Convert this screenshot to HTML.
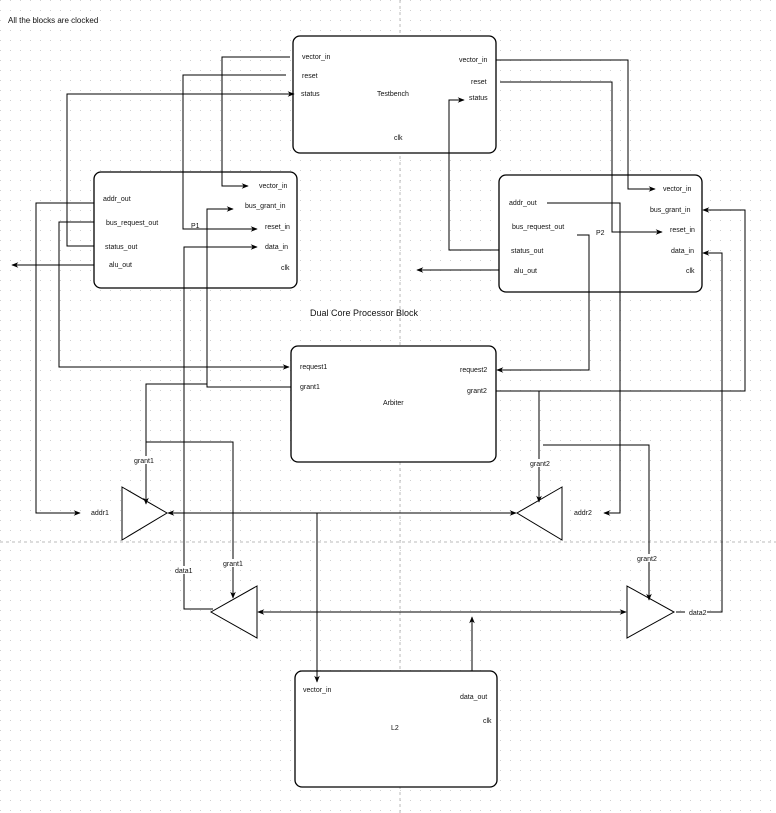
<!DOCTYPE html>
<html><head><meta charset="utf-8"><style>
html,body{margin:0;padding:0;background:#fff}
svg{display:block}
text{font-family:"Liberation Sans",sans-serif;font-size:7px;fill:#111}
</style></head><body>
<svg width="776" height="813" viewBox="0 0 776 813" xmlns="http://www.w3.org/2000/svg">
<defs>
<pattern id="dots" width="10" height="10" patternUnits="userSpaceOnUse"><rect x="0" y="0" width="1" height="1" fill="#d0d0d0"/></pattern>
<marker id="a" viewBox="0 0 10 10" refX="9" refY="5" markerWidth="7" markerHeight="7" orient="auto-start-reverse" markerUnits="userSpaceOnUse"><path d="M0,1 L10,5 L0,9 L3,5 z" fill="#000"/></marker>
</defs>
<rect width="776" height="813" fill="url(#dots)"/>
<line x1="400" y1="0" x2="400" y2="813" stroke="#bbb" stroke-dasharray="3,3" stroke-width="1"/>
<line x1="0" y1="542" x2="776" y2="542" stroke="#bbb" stroke-dasharray="3,3" stroke-width="1"/>

<text x="8" y="23" style="font-size:8px">All the blocks are clocked</text>
<text x="310" y="316" style="font-size:9px">Dual Core Processor Block</text>

<g fill="#fff" stroke="#000" stroke-width="1.3">
<rect x="293" y="36" width="203" height="117" rx="7"/>
<rect x="94" y="172" width="203" height="116" rx="7"/>
<rect x="499" y="175" width="203" height="117" rx="7"/>
<rect x="291" y="346" width="205" height="116" rx="7"/>
<rect x="295" y="671" width="202" height="116" rx="7"/>
</g>
<g fill="#fff" stroke="#000" stroke-width="1">
<polygon points="122,487 167,513 122,540"/>
<polygon points="562,487 517,513 562,540"/>
<polygon points="257,586 211,612 257,638"/>
<polygon points="627,586 674,612 627,638"/>
</g>

<g fill="none" stroke="#000" stroke-width="1">
<polyline points="290,57 222,57 222,186 248,186" marker-end="url(#a)"/>
<polyline points="286,75 183,75 183,229 257,229" marker-end="url(#a)"/>
<polyline points="94,246 67,246 67,94 294,94" marker-end="url(#a)"/>
<polyline points="94,203 36,203 36,513 80,513" marker-end="url(#a)"/>
<polyline points="94,222 59,222 59,367 289,367" marker-end="url(#a)"/>
<polyline points="94,265 12,265" marker-end="url(#a)"/>
<polyline points="291,387 207,387 207,209 233,209" marker-end="url(#a)"/>
<polyline points="207,384 146,384 146,502"/>
<line x1="146" y1="494" x2="146" y2="504" marker-end="url(#a)"/>
<polyline points="146,442 233,442 233,598" marker-end="url(#a)"/>
<polyline points="213,609 184,609 184,247 257,247" marker-end="url(#a)"/>
<polyline points="496,60 628,60 628,189 655,189" marker-end="url(#a)"/>
<polyline points="500,82 612,82 612,232 662,232" marker-end="url(#a)"/>
<polyline points="499,250 449,250 449,100 464,100" marker-end="url(#a)"/>
<polyline points="499,270 417,270" marker-end="url(#a)"/>
<polyline points="547,203 620,203 620,513 604,513" marker-end="url(#a)"/>
<polyline points="577,235 589,235 589,370 497,370" marker-end="url(#a)"/>
<polyline points="496,391 745,391 745,210 703,210" marker-end="url(#a)"/>
<polyline points="539,391 539,502" marker-end="url(#a)"/>
<polyline points="543,445 649,445 649,600" marker-end="url(#a)"/>
<polyline points="676,612 722,612 722,253 703,253" marker-end="url(#a)"/>
<line x1="168" y1="513" x2="516" y2="513" marker-start="url(#a)" marker-end="url(#a)"/>
<polyline points="317,513 317,682" marker-end="url(#a)"/>
<line x1="258" y1="612" x2="626" y2="612" marker-start="url(#a)" marker-end="url(#a)"/>
<polyline points="472,671 472,617" marker-end="url(#a)"/>
</g>

<g fill="#fff">
<rect x="128" y="456" width="24" height="8"/>
<rect x="215" y="559" width="22" height="8"/>
<rect x="172" y="566" width="22" height="8"/>
<rect x="527" y="459" width="24" height="8"/>
<rect x="636" y="554" width="24" height="8"/>
<rect x="685" y="608" width="22" height="8"/>
<rect x="575" y="509" width="20" height="8"/>
<rect x="88" y="509" width="24" height="8"/>
</g>

<text x="302" y="59">vector_in</text>
<text x="302" y="78">reset</text>
<text x="301" y="96">status</text>
<text x="377" y="96">Testbench</text>
<text x="394" y="140">clk</text>
<text x="459" y="62">vector_in</text>
<text x="471" y="84">reset</text>
<text x="469" y="100">status</text>
<text x="103" y="201">addr_out</text>
<text x="106" y="225">bus_request_out</text>
<text x="105" y="249">status_out</text>
<text x="109" y="267">alu_out</text>
<text x="191" y="228">P1</text>
<text x="259" y="188">vector_in</text>
<text x="245" y="208">bus_grant_in</text>
<text x="265" y="229">reset_in</text>
<text x="265" y="249">data_in</text>
<text x="281" y="270">clk</text>
<text x="509" y="205">addr_out</text>
<text x="512" y="229">bus_request_out</text>
<text x="511" y="253">status_out</text>
<text x="514" y="273">alu_out</text>
<text x="596" y="235">P2</text>
<text x="663" y="191">vector_in</text>
<text x="650" y="212">bus_grant_in</text>
<text x="670" y="232">reset_in</text>
<text x="671" y="253">data_in</text>
<text x="686" y="273">clk</text>
<text x="300" y="369">request1</text>
<text x="300" y="389">grant1</text>
<text x="460" y="372">request2</text>
<text x="467" y="393">grant2</text>
<text x="383" y="405">Arbiter</text>
<text x="303" y="692">vector_in</text>
<text x="460" y="699">data_out</text>
<text x="483" y="723">clk</text>
<text x="391" y="730">L2</text>
<text x="134" y="463">grant1</text>
<text x="223" y="566">grant1</text>
<text x="175" y="573">data1</text>
<text x="530" y="466">grant2</text>
<text x="637" y="561">grant2</text>
<text x="689" y="615">data2</text>
<text x="91" y="515">addr1</text>
<text x="574" y="515">addr2</text>
</svg>
</body></html>
